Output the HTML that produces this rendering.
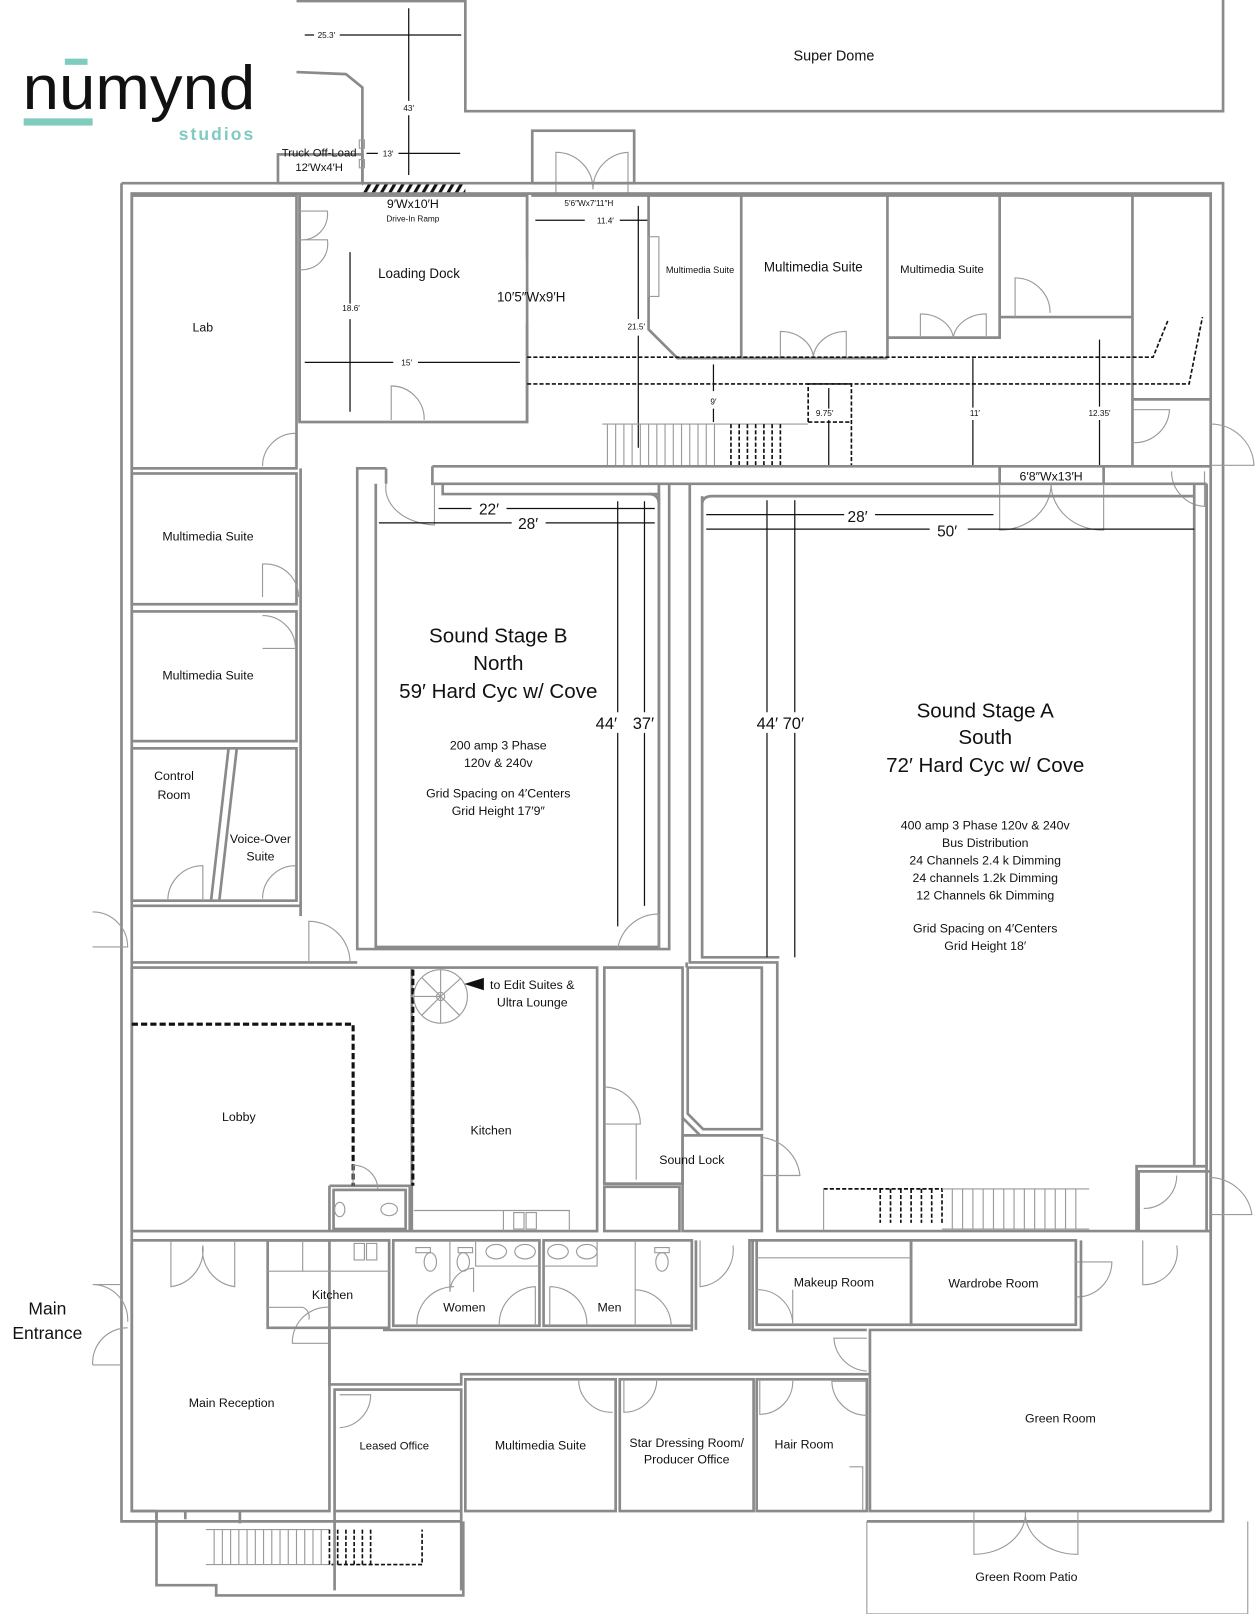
<!DOCTYPE html>
<html><head><meta charset="utf-8">
<style>
html,body{margin:0;padding:0;background:#fff;}
svg{display:block;}
.w{fill:none;stroke:#8a8a8a;stroke-width:2.6;}
.t{fill:none;stroke:#9a9a9a;stroke-width:1.1;}
.k{fill:none;stroke:#111;stroke-width:1.2;}
.dd{fill:none;stroke:#111;stroke-width:1.6;stroke-dasharray:4 2;}
.dt{fill:none;stroke:#111;stroke-width:3;stroke-dasharray:6 3;}
text{font-family:"Liberation Sans",sans-serif;fill:#111;text-anchor:middle;}
</style></head>
<body>
<svg width="1256" height="1614" viewBox="0 0 1220 1568" preserveAspectRatio="none" xmlns="http://www.w3.org/2000/svg">
<defs>
<pattern id="h" width="7" height="12" patternUnits="userSpaceOnUse" patternTransform="rotate(30)">
<rect width="3" height="12" fill="#111"/></pattern>
</defs>
<!-- logo -->
<rect x="63" y="57" width="22" height="6" fill="#7fcbbe"/>
<rect x="23" y="115" width="67" height="7" fill="#7fcbbe"/>
<text x="22" y="106" style="font-size:60px;text-anchor:start" textLength="226" lengthAdjust="spacingAndGlyphs">numynd</text>
<text x="248" y="136" style="font-size:17px;text-anchor:end;fill:#7fcbbe;font-weight:bold;letter-spacing:2px">studios</text>

<!-- super dome -->
<path class="w" d="M288 1 H452 V108 H1188 V0"/>
<text x="810" y="59" style="font-size:14px">Super Dome</text>
<path class="w" d="M288 70 L336 72 L352 85 V178"/>
<rect class="w" x="270" y="150" width="82" height="28"/>
<rect class="t" x="349" y="136" width="5" height="8"/><rect class="t" x="349" y="155" width="5" height="8"/>
<text x="310" y="152" style="font-size:11px">Truck Off-Load</text>
<text x="310" y="166" style="font-size:11px">12′Wx4′H</text>
<path class="k" d="M296 34 H305 M330 34 H448 M397 8 V98 M397 112 V170 M356 149 H367 M387 149 H447"/>
<text x="317" y="37" style="font-size:8px">25.3′</text>
<text x="397" y="108" style="font-size:8px">43′</text>
<text x="377" y="152" style="font-size:8px">13′</text>
<rect x="352" y="178" width="100" height="12" fill="url(#h)"/>
<rect class="w" x="517" y="127" width="99" height="51"/>
<path class="t" d="M540 190 V148 A36 36 0 0 1 576 184 M610 190 V148 A36 36 0 0 0 576 184"/>

<!-- outer building -->
<path class="w" d="M118 178 H1188 V1478 H842 M447 1478 H118 V178"/>
<rect class="w" x="128" y="188" width="1048" height="0.1"/>
<path class="w" d="M128 188 V1468 H152 M1176 188 V1468 H1176"/>
<path class="w" d="M152 1468 V1540 H210 V1550 H450 V1478"/>
<path class="w" d="M180 1468 V1476"/>
<path class="t" d="M200 1486 H320 M200 1520 H320"/>
<g class="t"><path d="M208 1486 V1520 M216 1486 V1520 M224 1486 V1520 M232 1486 V1520 M240 1486 V1520 M248 1486 V1520 M256 1486 V1520 M264 1486 V1520 M272 1486 V1520 M280 1486 V1520 M288 1486 V1520 M296 1486 V1520 M304 1486 V1520 M312 1486 V1520"/></g>
<path class="dd" d="M320 1486 V1520 H410 V1486 M328 1486 V1520 M336 1486 V1520 M344 1486 V1520 M352 1486 V1520 M360 1486 V1520"/>
<!-- patio -->
<path class="t" d="M842 1478 V1568 H1212 V1478"/>
<path class="t" d="M946 1468 V1510 A50 40 0 0 0 996 1468 M1047 1468 V1510 A50 40 0 0 1 996 1468"/>
<text x="997" y="1536" style="font-size:12px">Green Room Patio</text>

<!-- Lab & left rooms -->
<rect class="w" x="128" y="190" width="160" height="265"/>
<text x="197" y="322" style="font-size:12px">Lab</text>
<path class="t" d="M255 453 A32 32 0 0 1 287 421 V453"/>
<rect class="w" x="128" y="460" width="160" height="127"/>
<text x="202" y="525" style="font-size:12px">Multimedia Suite</text>
<path class="t" d="M255 580 V548 A32 32 0 0 1 290 580"/>
<rect class="w" x="128" y="594" width="160" height="126"/>
<text x="202" y="660" style="font-size:12px">Multimedia Suite</text>
<path class="t" d="M255 598 A32 32 0 0 1 287 630 H255"/>
<rect class="w" x="128" y="727" width="160" height="148"/>
<path class="w" d="M222 727 L205 875 M230 727 L213 875"/>
<text x="169" y="758" style="font-size:12px">Control</text>
<text x="169" y="776" style="font-size:12px">Room</text>
<text x="253" y="819" style="font-size:12px">Voice-Over</text>
<text x="253" y="836" style="font-size:12px">Suite</text>
<path class="t" d="M163 875 A34 34 0 0 1 197 841 V875 M255 873 A32 32 0 0 1 287 841 V873"/>
<path class="w" d="M128 880 H292 V455 M128 935 H347 M292 880 V890"/>
<path class="t" d="M90 886 A34 34 0 0 1 124 920 H90 M300 935 V895 A40 40 0 0 1 340 935"/>

<!-- Loading dock -->
<rect class="w" x="291" y="190" width="221" height="220"/>
<path class="w" d="M291 410 V190 M512 190 V250 M512 314 V410"/>
<path class="t" d="M291 205 H318 A25 25 0 0 1 291 233 M291 233 H318 A25 25 0 0 1 291 262 M380 408 V375 A32 32 0 0 1 412 408"/>
<text x="401" y="202" style="font-size:12px">9′Wx10′H</text>
<text x="401" y="215" style="font-size:8px">Drive-In Ramp</text>
<text x="407" y="270" style="font-size:13px">Loading Dock</text>
<text x="516" y="293" style="font-size:13px">10′5″Wx9′H</text>
<path class="k" d="M340 245 V295 M340 310 V400 M296 352 H382 M406 352 H505"/>
<text x="341" y="302" style="font-size:8px">18.6′</text>
<text x="395" y="355" style="font-size:8px">15′</text>

<!-- top corridor region -->
<path class="w" d="M516 190 H1176"/>
<text x="572" y="200" style="font-size:8px">5′6″Wx7′11″H</text>
<path class="k" d="M520 214 H568 M602 214 H630 M620 200 V310 M620 326 V435"/>
<text x="588" y="217" style="font-size:8px">11.4′</text>
<text x="618" y="320" style="font-size:8px">21.5′</text>
<path class="w" d="M630 190 V320 L658 348 H862 M720 190 V348 M862 190 V348 M862 328 H971 V190 M971 308 H1100 M1100 190 V453 M1100 388 H1176"/>
<rect class="t" x="630" y="230" width="10" height="58"/>
<text x="680" y="265" style="font-size:9px">Multimedia Suite</text>
<text x="790" y="264" style="font-size:13px">Multimedia Suite</text>
<text x="915" y="265" style="font-size:11px">Multimedia Suite</text>
<path class="t" d="M758 348 V322 A32 28 0 0 1 790 346 A32 28 0 0 1 822 322 V348 M894 328 V305 A32 26 0 0 1 926 328 A32 26 0 0 1 958 305 V328 M986 308 V270 A34 34 0 0 1 1020 304 M1100 430 A34 34 0 0 0 1136 398 H1100 M1176 412 A42 42 0 0 1 1218 452 H1176 M1138 458 A34 34 0 0 0 1170 492 V458"/>
<path class="dd" d="M512 347 H1120 L1135 310 M512 373 H1155 L1168 308"/>
<path class="dd" d="M785 410 V373 H827 V453 M785 410 H827"/>
<path class="k" d="M693 354 V380 M693 397 V410 M805 377 V397 M805 408 V453 M945 348 V396 M945 408 V453 M1068 330 V395 M1068 408 V453"/>
<text x="693" y="393" style="font-size:8px">9′</text>
<text x="801" y="404" style="font-size:8px">9.75′</text>
<text x="947" y="404" style="font-size:8px">11′</text>
<text x="1068" y="404" style="font-size:8px">12.35′</text>
<path class="t" d="M585 412 H785 M585 453 H800"/>
<g class="t"><path d="M590 412V453M598 412V453M606 412V453M614 412V453M622 412V453M630 412V453M638 412V453M646 412V453M654 412V453M662 412V453M670 412V453M678 412V453M686 412V453M694 412V453"/></g>
<path class="dd" d="M710 412V453M718 412V453M726 412V453M734 412V453M742 412V453M750 412V453M758 412V453"/>

<!-- corridor between stages -->
<path class="w" d="M420 453 H1176 M420 453 V470 H1172 M971 453 V470 M1072 453 V470"/>
<text x="1021" y="467" style="font-size:12px">6′8″Wx13′H</text>
<path class="t" d="M971 470 V515 A50 45 0 0 0 1021 470 M1072 470 V515 A50 45 0 0 1 1021 470"/>

<!-- Stage B -->
<path class="w" d="M375 455 H347 V922 H650 V470 M365 470 V920 H640 V480 H430 V470 M375 455 V470"/>
<path class="w" d="M640 470 V920"/>
<path class="w" d="M630 480 Q640 480 640 490"/>
<path class="t" d="M375 470 A50 36 0 0 0 422 510 V470"/>
<path class="k" d="M426 494 H458 M492 494 H636 M368 508 H497 M530 508 H636 M600 487 V692 M600 712 V900 M626 487 V692 M626 712 V880"/>
<text x="475" y="500" style="font-size:15px">22′</text>
<text x="513" y="514" style="font-size:15px">28′</text>
<text x="589" y="708" style="font-size:16px">44′</text>
<text x="625" y="708" style="font-size:16px">37′</text>
<text x="484" y="624" style="font-size:20px">Sound Stage B</text>
<text x="484" y="651" style="font-size:20px">North</text>
<text x="484" y="678" style="font-size:20px">59′ Hard Cyc w/ Cove</text>
<text x="484" y="728" style="font-size:12px">200 amp 3 Phase</text>
<text x="484" y="745" style="font-size:12px">120v &amp; 240v</text>
<text x="484" y="775" style="font-size:12px">Grid Spacing on 4′Centers</text>
<text x="484" y="792" style="font-size:12px">Grid Height 17′9″</text>
<path class="t" d="M600 922 A40 40 0 0 1 640 888 V922"/>

<!-- Stage A -->
<path class="w" d="M670 470 V935 H755 V1196 H1104 V1133 H1172 V470 M682 490 Q682 482 692 482 H1160 M682 482 V930 H757"/>
<path class="w" d="M1160 470 V1133 M1172 470 V1196"/>
<path class="w" d="M667 935 V940"/>
<path class="k" d="M686 500 H820 M850 500 H965 M686 514 H903 M940 514 H1160 M745 486 V692 M745 712 V930 M772 486 V692 M772 712 V930"/>
<text x="833" y="507" style="font-size:15px">28′</text>
<text x="920" y="521" style="font-size:15px">50′</text>
<text x="758" y="708" style="font-size:16px">44′ 70′</text>
<text x="957" y="697" style="font-size:20px">Sound Stage A</text>
<text x="957" y="723" style="font-size:20px">South</text>
<text x="957" y="750" style="font-size:20px">72′ Hard Cyc w/ Cove</text>
<text x="957" y="806" style="font-size:12px">400 amp 3 Phase 120v &amp; 240v</text>
<text x="957" y="823" style="font-size:12px">Bus Distribution</text>
<text x="957" y="840" style="font-size:12px">24 Channels 2.4 k Dimming</text>
<text x="957" y="857" style="font-size:12px">24 channels 1.2k Dimming</text>
<text x="957" y="874" style="font-size:12px">12 Channels 6k Dimming</text>
<text x="957" y="906" style="font-size:12px">Grid Spacing on 4′Centers</text>
<text x="957" y="923" style="font-size:12px">Grid Height 18′</text>
<path class="dd" d="M800 1155 H915 V1188 M855 1155 V1188 M865 1155 V1188 M875 1155 V1188 M885 1155 V1188 M895 1155 V1188 M905 1155 V1188"/>
<path class="t" d="M800 1155 V1196 M915 1155 H1058 M915 1194 H1058"/>
<g class="t"><path d="M925 1155V1194M935 1155V1194M945 1155V1194M955 1155V1194M965 1155V1194M975 1155V1194M985 1155V1194M995 1155V1194M1005 1155V1194M1015 1155V1194M1025 1155V1194M1035 1155V1194M1045 1155V1194"/></g>
<rect class="w" x="1106" y="1138" width="70" height="58"/>
<path class="t" d="M1111 1174 A32 32 0 0 0 1143 1142 M1176 1144 A42 42 0 0 1 1216 1180 H1176"/>

<!-- middle block -->
<rect class="w" x="128" y="940" width="452" height="256"/>
<path class="w" d="M400 940 V1196 M320 1152 H398 V1196 M320 1152 V1196"/>
<rect class="w" x="324" y="1156" width="70" height="38"/>
<ellipse class="t" cx="330" cy="1175" rx="5" ry="7"/><ellipse class="t" cx="378" cy="1175" rx="8" ry="6"/>
<path class="dt" d="M128 995 H343 V1152 M401 942 V1152"/>
<path class="t" d="M343 1152 V1132 A24 24 0 0 1 367 1155"/>
<circle class="t" cx="428" cy="968" r="26"/><circle class="t" cx="428" cy="968" r="4"/>
<path class="t" d="M428 968 L402 968 M428 968 L428 942 M428 968 L410 950 M428 968 L448 950 M428 968 L410 986 M428 968 L428 994 M428 968 L446 986"/>
<path d="M451 956 L470 950 V962 Z" fill="#111"/>
<text x="517" y="961" style="font-size:12px">to Edit Suites &amp;</text>
<text x="517" y="978" style="font-size:12px">Ultra Lounge</text>
<text x="232" y="1089" style="font-size:12px">Lobby</text>
<text x="477" y="1102" style="font-size:12px">Kitchen</text>
<path class="t" d="M402 1176 H553 V1196 M489 1176 V1196 M499 1178 h10 v16 h-10z M511 1178 h10 v16 h-10z"/>
<rect class="w" x="587" y="940" width="76" height="210"/>
<path class="w" d="M587 1150 H663 V1103 H740 V1196 H663 V1150 M587 1153 V1196 H660 V1153 Z M663 1086 L680 1103"/>
<path class="w" d="M668 940 H740 V1097 H683 L668 1082 Z"/>
<path class="t" d="M587 1056 A36 36 0 0 1 622 1092 H587 M740 1105 A42 42 0 0 1 777 1142 H740 M618 1146 V1092"/>
<text x="672" y="1131" style="font-size:12px">Sound Lock</text>

<!-- bottom row -->
<rect class="w" x="128" y="1205" width="192" height="263"/>
<path class="w" d="M152 1468 V1480 M233 1468 V1480"/>
<path class="t" d="M166 1205 V1250 A36 36 0 0 0 197 1210 A36 36 0 0 0 228 1250 V1205 M90 1248 H118 M90 1248 A34 34 0 0 1 124 1284 M90 1326 A34 34 0 0 1 124 1290 M90 1326 H118"/>
<text x="46" y="1277" style="font-size:17px">Main</text>
<text x="46" y="1301" style="font-size:17px">Entrance</text>
<text x="225" y="1367" style="font-size:12px">Main Reception</text>
<path class="t" d="M320 1270 A34 34 0 0 0 284 1305 H320"/>
<path class="w" d="M260 1205 H378 V1290 H320 M260 1205 V1290 H320 M320 1290 V1345 H448 V1335 H845"/>
<path class="t" d="M260 1270 H294 A10 10 0 0 1 300 1282 M294 1205 V1235 H260 M294 1235 H378 M344 1208 h10 v16 h-10z M356 1208 h10 v16 h-10z"/>
<text x="323" y="1262" style="font-size:12px">Kitchen</text>
<rect class="w" x="382" y="1205" width="142" height="83"/>
<rect class="w" x="528" y="1205" width="144" height="83"/>
<path class="w" d="M372 1292 H672 V1288 M676 1292 V1205 M731 1205 V1292 H842"/>
<g class="t"><path d="M404 1212 h14 v5 h-14z M445 1212 h14 v5 h-14z M636 1212 h14 v5 h-14z"/>
<ellipse cx="418" cy="1226" rx="6" ry="9"/><ellipse cx="450" cy="1226" rx="6" ry="9"/><ellipse cx="643" cy="1226" rx="6" ry="9"/>
<ellipse cx="482" cy="1216" rx="10" ry="7"/><ellipse cx="510" cy="1216" rx="10" ry="7"/><ellipse cx="542" cy="1216" rx="10" ry="7"/><ellipse cx="570" cy="1216" rx="10" ry="7"/>
<path d="M437 1205 V1255 M437 1255 A24 24 0 0 1 460 1232 V1255 M405 1288 A36 36 0 0 1 441 1250 M485 1288 A36 36 0 0 1 520 1250 V1288 M534 1250 A36 36 0 0 1 570 1288 M534 1250 V1288 M617 1253 A36 36 0 0 1 652 1288 M617 1205 V1288 M462 1205 V1230 H524 M580 1205 V1230 H528 M680 1205 V1250 A36 36 0 0 0 712 1210"/></g>
<text x="451" y="1274" style="font-size:12px">Women</text>
<text x="592" y="1274" style="font-size:12px">Men</text>
<rect class="w" x="735" y="1205" width="150" height="82"/>
<rect class="w" x="885" y="1205" width="160" height="82"/>
<path class="t" d="M735 1222 H885 M735 1253 A34 34 0 0 1 770 1287 V1253 M1045 1226 H1080 A34 34 0 0 1 1045 1260 M1110 1205 V1248 A32 32 0 0 0 1143 1210"/>
<path class="w" d="M735 1205 H728 V1292 M1050 1205 V1292 H845 V1468 H1176"/>
<text x="810" y="1250" style="font-size:12px">Makeup Room</text>
<text x="965" y="1251" style="font-size:12px">Wardrobe Room</text>
<text x="1030" y="1382" style="font-size:12px">Green Room</text>
<rect class="w" x="325" y="1350" width="123" height="118"/>
<path class="t" d="M330 1355 H360 A32 32 0 0 1 330 1387"/>
<text x="383" y="1408" style="font-size:11px">Leased Office</text>
<path class="w" d="M325 1468 V1545 M448 1468 V1545"/>
<rect class="w" x="452" y="1340" width="146" height="128"/>
<text x="525" y="1408" style="font-size:12px">Multimedia Suite</text>
<path class="t" d="M562 1340 A32 32 0 0 0 595 1372"/>
<rect class="w" x="602" y="1340" width="130" height="128"/>
<text x="667" y="1406" style="font-size:12px">Star Dressing Room/</text>
<text x="667" y="1422" style="font-size:12px">Producer Office</text>
<path class="t" d="M606 1340 V1372 A32 32 0 0 0 638 1340"/>
<rect class="w" x="735" y="1340" width="107" height="128"/>
<text x="781" y="1407" style="font-size:12px">Hair Room</text>
<path class="t" d="M738 1340 V1374 A32 32 0 0 0 770 1340 M842 1375 A34 34 0 0 1 808 1342 H842 M842 1300 H810 A34 34 0 0 0 842 1332 M825 1425 H838 V1468"/>
</svg>
</body></html>
